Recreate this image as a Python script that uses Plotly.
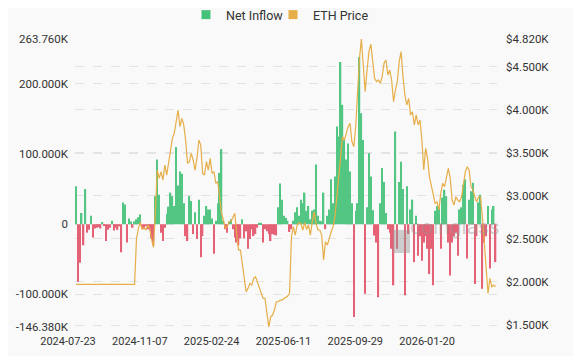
import plotly.graph_objects as go

# ---- data ----
tick_labels = ["2024-07-23", "2024-11-07", "2025-02-24", "2025-06-11", "2025-09-29", "2026-01-20"]
tick_index = [0, 76, 152, 228, 304, 380]

# net inflow in thousands, one value every 2 categories
net_inflow_k = [
    54, -82, -55, 16, -30, 50, -12, -8, 12, -19, -6, -5, -4, -6, 3, -2, -24, -8, -5, 5,
    -9, -5, -8, -3, -40, 31, 28, -26, 8, 4, -5, 4, 7, 10, 14, -6, -7, -3, -7, -9,
    -20, -30, 40, 92, 42, -12, -24, -5, 15, 25, 45, 40, 26, 110, 55, 75, 72, 30, -17, -24,
    40, 33, -14, 17, -21, 35, -47, -17, 12, 26, 21, 21, 8, -42, 5, 30, 73, 107, 5, -7,
    -12, 4, 7, -7, -19, -26, -30, -20, 7, -20, -10, -35, -21, -7, -17, -14, -5, 2, 2, -26,
    -7, -10, -14, -24, -14, -15, -16, 24, 58, 35, 12, 9, 5, -11, -7, 5, 17, 24, 12, 35,
    30, 45, 19, 26, 7, 19, 21, 85, 12, 5, 4, 45, -7, 12, 21, 64, 30, 68, 139, 125,
    231, 170, 120, 92, 115, 75, 30, -132, 19, 30, 238, 158, 120, -99, 24, 101, 68, 20, -16, -26,
    -104, 30, 80, 60, 16, -7, -12, -35, -87, 132, -35, 60, 89, 50, -101, 54, -14, 21, 35, -54,
    12, -45, -17, -52, -26, -17, -35, -71, -35, -87, 19, 26, 24, -35, 38, 49, 40, -26, -73, -26,
    -17, -12, -45, 21, 24, 56, 64, -49, 35, 47, 59, -85, -17, 31, 42, -92, -26, -17, 26, -63,
    21, 26, -54,
]

eth_price = [
    1972, 1972, 1972, 1972, 1972, 1972, 1972, 1972, 1972, 1972, 1972, 1972, 1972, 1972, 1972, 1972,
    1972, 1972, 1972, 1972, 1972, 1972, 1972, 1972, 1972, 1972, 1972, 1972, 1972, 1972, 1972, 1972,
    2500, 2620, 2690, 2610, 2633, 2603, 2660, 2622, 2494, 2401, 2815, 3299, 3202, 3280, 3183, 3357,
    3241, 3376, 3493, 3667, 3725, 3841, 3996, 3802, 3899, 3822, 3647, 3376, 3396, 3493, 3415, 3299,
    3435, 3647, 3589, 3260, 3241, 3396, 3299, 3435, 3260, 3280, 3144, 3164, 2989, 2796, 2719, 2622,
    2641, 2699, 2699, 2757, 2796, 2564, 2370, 2370, 2215, 2099, 1887, 1925, 1983, 1964, 2041, 2061,
    2003, 1944, 1867, 1809, 1809, 1635, 1477, 1596, 1616, 1674, 1770, 1770, 1790, 1790, 1809, 1828,
    1836, 1867, 2525, 2641, 2544, 2660, 2688, 2680, 2603, 2688, 2610, 2660, 2544, 2699, 2815, 2680,
    2603, 2603, 2544, 2254, 2467, 2428, 2525, 2583, 2641, 2757, 2989, 3222, 3454, 3686, 3647, 3744,
    3802, 3841, 3628, 3570, 3802, 4208, 4596, 4820, 4557, 4208, 4460, 4673, 4760, 4538, 4363, 4325,
    4344, 4305, 4383, 4538, 4576, 4402, 4460, 4344, 4092, 4228, 4325, 4557, 4673, 4383, 4170, 4054,
    4131, 3938, 3976, 3822, 3938, 3822, 3880, 3647, 3299, 3551, 3435, 3222, 3106, 2989, 2912, 2931,
    2835, 3028, 3144, 3106, 3202, 3318, 3202, 2951, 2893, 2989, 2951, 2931, 2989, 3144, 3280, 3338,
    3299, 3106, 3067, 2989, 2931, 2989, 2989, 2757, 2486, 2215, 1867, 2041, 1944, 1964, 1944,
]

left_tick_vals = [-146.38, -100, 0, 100, 200, 263.76]
left_tick_text = ["-146.380K", "-100.000K", "0", "100.000K", "200.000K", "263.760K"]
right_tick_vals = [1500, 2000, 2500, 3000, 3500, 4000, 4500, 4820]
right_tick_text = ["$1.500K", "$2.000K", "$2.500K", "$3.000K", "$3.500K", "$4.000K", "$4.500K", "$4.820K"]

# ---- styles ----
GREEN = "#45c27a"
RED = "#e4556a"
GOLD = "#e6ae48"
TXT = "#333333"
GRID = "#e3e3e3"
FONT = "Roboto"
BG = "#f9f9f9"

x_index = list(range(0, 2 * len(net_inflow_k), 2))
bar_colors = [GREEN if v >= 0 else RED for v in net_inflow_k]

fig = go.Figure()
fig.add_trace(go.Bar(
    x=x_index, y=net_inflow_k, width=1.5,
    marker=dict(color=bar_colors, line=dict(width=0)),
    opacity=0.92, showlegend=False, name="Net Inflow",
))
fig.add_trace(go.Scatter(
    x=x_index, y=eth_price, yaxis="y2", mode="lines",
    line=dict(color=GOLD, width=1.2), showlegend=False, name="ETH Price",
))
# legend-only entries (square swatches), one legend box each
fig.add_trace(go.Scatter(x=[None], y=[None], mode="markers", name="Net Inflow", legend="legend",
                         marker=dict(symbol="square", size=9, color=GREEN)))
fig.add_trace(go.Scatter(x=[None], y=[None], mode="markers", name="ETH Price", legend="legend2",
                         marker=dict(symbol="square", size=9, color=GOLD)))

legend_common = dict(orientation="h", xanchor="left", xref="container", yref="container",
                     y=1 - 7 / 348, yanchor="middle", itemwidth=30,
                     font=dict(family=FONT, size=12.5, color=TXT), bgcolor="rgba(0,0,0,0)")

fig.update_layout(
    width=565, height=348,
    margin=dict(l=67, r=76, t=31, b=29, autoexpand=False),
    paper_bgcolor=BG, plot_bgcolor=BG,
    font=dict(family=FONT, size=12, color=TXT),
    barmode="overlay",
    showlegend=True,
    legend=dict(x=178 / 565, **legend_common),
    legend2=dict(x=265 / 565, **legend_common),
    xaxis=dict(range=[-1.06, 445.5], tickmode="array", tickvals=tick_index, ticktext=tick_labels,
               showgrid=False, zeroline=False, showline=False, ticks="", automargin=False,
               ticklabelshift=-8, ticklabelstandoff=6, tickfont=dict(family=FONT, size=11, color=TXT)),
    yaxis=dict(range=[-146.38, 263.76], tickmode="array", tickvals=left_tick_vals,
               ticktext=left_tick_text, showgrid=True, gridcolor=GRID, griddash="dash",
               gridwidth=1, zeroline=False, showline=False, ticks="", automargin=False,
               ticklabelstandoff=6, tickfont=dict(family=FONT, size=11.5, color=TXT)),
    yaxis2=dict(range=[1477, 4820], overlaying="y", side="right", tickmode="array",
                tickvals=right_tick_vals, ticktext=right_tick_text, showgrid=True,
                gridcolor=GRID, griddash="dash", gridwidth=1, zeroline=False, automargin=False,
                showline=False, ticks="", ticklabelstandoff=8,
                tickfont=dict(family=FONT, size=11.5, color=TXT)),
)

# watermark
fig.add_shape(type="rect", xref="paper", yref="paper", x0=0.7536, x1=0.7938, y0=0.257, y1=0.337,
              fillcolor="rgba(150,150,150,0.45)", line=dict(width=0), layer="above")
fig.add_annotation(text="coinglass", xref="paper", yref="paper", x=0.79, xanchor="left", y=0.2986,
                   showarrow=False, font=dict(family=FONT, size=21, color="rgba(150,150,150,0.45)"))

fig.write_html("out.html")
